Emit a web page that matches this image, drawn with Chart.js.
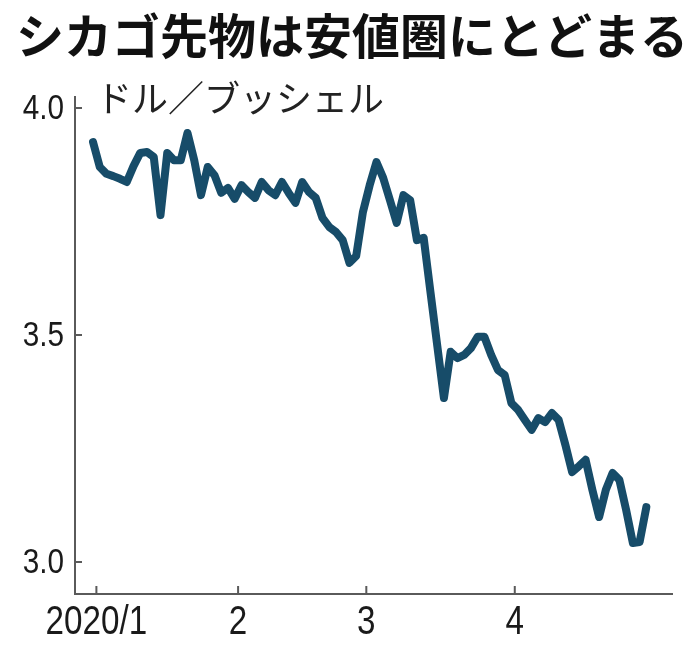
<!DOCTYPE html>
<html>
<head>
<meta charset="utf-8">
<script src="https://cdn.jsdelivr.net/npm/chart.js@4"></script>
<style>
  html, body { margin: 0; padding: 0; background: #fff; }
  #wrap { width: 698px; height: 660px; position: relative; }
</style>
</head>
<body>
<div id="wrap"><canvas id="myChart" width="698" height="660"></canvas></div>
<script>
// シカゴ トウモロコシ先物 (ドル/ブッシェル) 2020/1/2 - 4/30 の営業日ごとの値
const prices = [
  3.925, 3.870, 3.855, 3.850, 3.844, 3.837, 3.872, 3.901, 3.903, 3.892,
  3.764, 3.901, 3.885, 3.885, 3.945, 3.885, 3.808, 3.870, 3.852, 3.813,
  3.824, 3.800, 3.830, 3.815, 3.802, 3.837, 3.819, 3.808, 3.837, 3.813,
  3.791, 3.837, 3.815, 3.802, 3.758, 3.738, 3.727, 3.709, 3.659, 3.674,
  3.771, 3.830, 3.881, 3.846, 3.797, 3.747, 3.808, 3.797, 3.709, 3.714,
  3.595, 3.478, 3.361, 3.463, 3.449, 3.456, 3.471, 3.496, 3.496, 3.456,
  3.423, 3.412, 3.350, 3.335, 3.313, 3.291, 3.317, 3.308, 3.328, 3.313,
  3.258, 3.198, 3.211, 3.225, 3.159, 3.099, 3.159, 3.196, 3.181, 3.115,
  3.042, 3.044, 3.121
];

// 月の目盛り (営業日の番号) とラベル
const monthTicks = [0.5, 21.5, 40.5, 62.5];
const monthLabels = ['2020/1', '2', '3', '4'];

const yTicks = [3.0, 3.5, 4.0];
const yLabels = ['3.0', '3.5', '4.0'];

const titleText = 'シカゴ先物は安値圏にとどまる';
const unitText = 'ドル／ブッシェル';

var points = [];
for (let i = 0; i < prices.length; i++) {
  points.push({ x: i, y: prices[i] });
}

const numFont = '"Liberation Sans", Arial, sans-serif';
const jpFont = '"Noto Sans CJK JP", sans-serif';
const axisColor = '#5a5a5a';

// 細めの数字 (横方向に縮める)
function narrowText(ctx, text, x, y, align, sx) {
  ctx.save();
  ctx.translate(x, y);
  ctx.scale(sx, 1);
  ctx.textAlign = align;
  ctx.fillText(text, 0, 0);
  ctx.restore();
}

// タイトル・単位・目盛りラベル・内向きの目盛り線
const extras = {
  id: 'extras',
  afterDraw(chart) {
    const ctx = chart.ctx;
    const area = chart.chartArea;
    const xs = chart.scales.x;
    const ys = chart.scales.y;
    ctx.save();

    ctx.fillStyle = '#111';
    ctx.textBaseline = 'middle';
    ctx.textAlign = 'left';
    ctx.font = 'bold 48px ' + jpFont;
    ctx.fillText(titleText, 16, 36);

    ctx.fillStyle = '#222';
    ctx.font = '36px ' + jpFont;
    ctx.fillText(unitText, 96, 98);

    // 目盛りラベル
    ctx.fillStyle = '#1a1a1a';
    ctx.font = '35px ' + numFont;
    yTicks.forEach((v, i) => {
      narrowText(ctx, yLabels[i], area.left - 11, ys.getPixelForValue(v) + 1, 'right', 0.85);
    });
    ctx.font = '40px ' + numFont;
    monthTicks.forEach((v, i) => {
      narrowText(ctx, monthLabels[i], xs.getPixelForValue(v), area.bottom + 29, 'center', 0.83);
    });

    ctx.strokeStyle = axisColor;
    ctx.lineWidth = 2;
    ctx.beginPath();
    yTicks.forEach(v => {
      const py = ys.getPixelForValue(v);
      ctx.moveTo(area.left, py);
      ctx.lineTo(area.left + 7, py);
    });
    monthTicks.forEach(v => {
      const px = xs.getPixelForValue(v);
      ctx.moveTo(px, area.bottom);
      ctx.lineTo(px, area.bottom - 8);
    });
    ctx.stroke();
    ctx.restore();
  }
};

var ctx = document.getElementById('myChart').getContext('2d');
var myChart = new Chart(ctx, {
  type: 'line',
  data: {
    datasets: [{
      data: points,
      borderColor: '#174c69',
      borderWidth: 8,
      borderJoinStyle: 'round',
      borderCapStyle: 'round',
      pointRadius: 0,
      tension: 0,
      fill: false
    }]
  },
  options: {
    responsive: false,
    animation: false,
    layout: { padding: { top: 97, right: 26, left: 0, bottom: 0 } },
    plugins: {
      legend: { display: false },
      tooltip: { enabled: false },
      title: { display: false }
    },
    scales: {
      x: {
        type: 'linear',
        min: -2.67,
        max: 85.8,
        afterBuildTicks: s => { s.ticks = monthTicks.map(v => ({ value: v })); },
        afterFit: s => { s.height = 66; },
        grid: { display: false, drawTicks: false },
        border: { display: true, color: axisColor, width: 2 },
        ticks: { display: false }
      },
      y: {
        min: 2.9295,
        max: 4.0242,
        afterBuildTicks: s => { s.ticks = yTicks.map(v => ({ value: v })); },
        afterFit: s => { s.width = 75; },
        grid: { display: false, drawTicks: false },
        border: { display: true, color: axisColor, width: 2 },
        ticks: { display: false }
      }
    }
  },
  plugins: [extras]
});
</script>
</body>
</html>
